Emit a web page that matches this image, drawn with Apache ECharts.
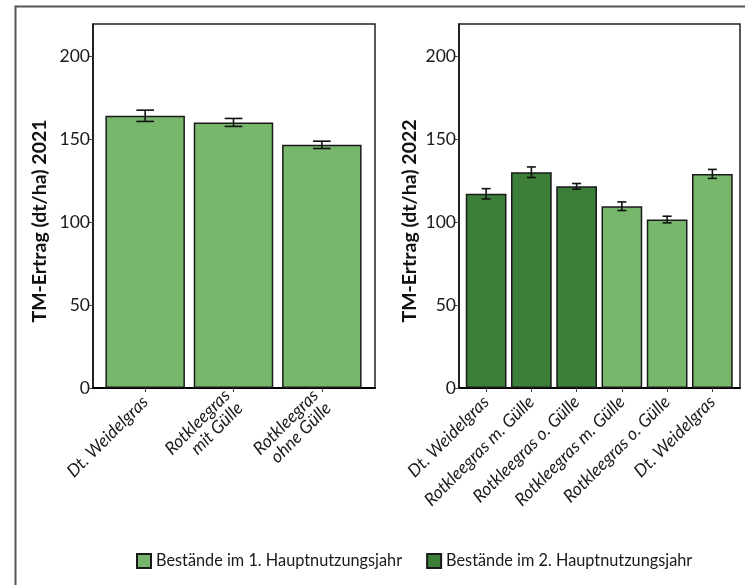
<!DOCTYPE html>
<html>
<head>
<meta charset="utf-8">
<script src="https://cdn.jsdelivr.net/npm/echarts@6/dist/echarts.min.js"></script>
<style>
  html, body { margin: 0; padding: 0; background: #fff; }
  #chart { width: 745px; height: 585px; }
</style>
</head>
<body>
<div id="chart"></div>
<script>
// 2021 trial
const cats2021 = ['Dt. Weidelgras', 'Rotkleegras\nmit Gülle', 'Rotkleegras\nohne Gülle']
const yield2021 = [164, 160, 146.5]
const err2021 = [3.4, 2.4, 2.2]

// 2022 trial
const cats2022 = ['Dt. Weidelgras', 'Rotkleegras m. Gülle', 'Rotkleegras o. Gülle',
  'Rotkleegras m. Gülle', 'Rotkleegras o. Gülle', 'Dt. Weidelgras']
const yield2022 = [117, 130, 121.5, 109.5, 101.5, 129]
const err2022 = [3.1, 3.2, 1.7, 2.6, 2.0, 2.7]
const useYear2022 = [2, 2, 2, 1, 1, 1] // Hauptnutzungsjahr

const yTicks = [0, 50, 100, 150, 200]
const legendNames = ['Bestände im 1. Hauptnutzungsjahr', 'Bestände im 2. Hauptnutzungsjahr']

const LIGHT = '#77b76c'
const DARK = '#3b7f39'
const FONT = 'Lato'

function errData(vals, errs) {
  return vals.map((v, i) => [i, v - errs[i], v + errs[i]])
}

function errorItem(params, api) {
  const x = api.value(0)
  const lo = api.coord([x, api.value(1)])
  const hi = api.coord([x, api.value(2)])
  const half = api.size([1, 0])[0] * 0.1
  const style = { stroke: '#111', lineWidth: 1.6, fill: null }
  return {
    type: 'group',
    children: [
      { type: 'line', shape: { x1: hi[0] - half, y1: hi[1], x2: hi[0] + half, y2: hi[1] }, style },
      { type: 'line', shape: { x1: hi[0], y1: hi[1], x2: lo[0], y2: lo[1] }, style },
      { type: 'line', shape: { x1: lo[0] - half, y1: lo[1], x2: lo[0] + half, y2: lo[1] }, style }
    ]
  }
}

function frameX(gridIndex) {
  return {
    gridIndex, type: 'value', min: 0, max: 1,
    axisLine: { show: true, lineStyle: { color: '#000', width: 2 } },
    axisTick: { show: false }, axisLabel: { show: false }, splitLine: { show: false }
  }
}
function frameY(gridIndex) {
  return { gridIndex, type: 'value', min: 0, max: 1, show: false }
}
function catX(gridIndex, data) {
  return {
    gridIndex, type: 'category', data,
    axisLine: { show: false },
    axisTick: { show: true, alignWithLabel: true, length: 4, lineStyle: { color: '#444' } },
    axisLabel: {
      rotate: 45, margin: 11, interval: 0, color: '#1a1a1a',
      fontFamily: FONT, fontStyle: 'italic', fontSize: 17.5, lineHeight: 18
    }
  }
}
function valY(gridIndex, offset, name) {
  return {
    gridIndex, type: 'value', min: 0, max: 219.3, offset,
    name, nameLocation: 'middle', nameGap: 35 + offset,
    nameTextStyle: { fontFamily: FONT, fontWeight: 'bold', fontSize: 19.5, color: '#111', padding: [0, 30, 0, 0] },
    axisLine: { show: true, lineStyle: { color: '#111', width: 1.5 } },
    axisTick: { show: true, length: 5, customValues: yTicks, lineStyle: { color: '#444' } },
    axisLabel: { customValues: yTicks, margin: 3, color: '#1a1a1a', fontFamily: FONT, fontSize: 17.5 },
    splitLine: { show: false }
  }
}

const chart = echarts.init(document.getElementById('chart'))
chart.setOption({
  animation: false,
  textStyle: { fontFamily: FONT },
  graphic: [{
    type: 'rect', left: 13, top: 4,
    shape: { width: 760, height: 620 },
    style: { fill: 'none', stroke: '#555', lineWidth: 2 }
  }],
  legend: {
    data: legendNames,
    left: 131, top: 548,
    itemWidth: 14, itemHeight: 14, itemGap: 24,
    icon: 'rect',
    textStyle: { fontFamily: FONT, fontSize: 16.3, color: '#1a1a1a' }
  },
  grid: [
    { left: 93, top: 24, width: 282, height: 364, show: true, borderColor: '#222', borderWidth: 1.5 },
    { left: 101, top: 24, width: 265, height: 364 },
    { left: 459, top: 24, width: 281, height: 364, show: true, borderColor: '#222', borderWidth: 1.5 },
    { left: 463.5, top: 24, width: 271.5, height: 364 }
  ],
  xAxis: [frameX(0), catX(1, cats2021), frameX(2), catX(3, cats2022)],
  yAxis: [frameY(0), valY(1, 8, 'TM-Ertrag (dt/ha) 2021'), frameY(2), valY(3, 4.5, 'TM-Ertrag (dt/ha) 2022')],
  series: [
    {
      name: legendNames[0], type: 'bar', xAxisIndex: 1, yAxisIndex: 1,
      data: yield2021, barCategoryGap: '10%',
      itemStyle: { color: LIGHT, borderColor: '#1a1a1a', borderWidth: 1.5 }
    },
    {
      type: 'custom', xAxisIndex: 1, yAxisIndex: 1, z: 5,
      renderItem: errorItem, encode: { x: 0, y: [1, 2] },
      data: errData(yield2021, err2021)
    },
    {
      name: legendNames[0], type: 'bar', xAxisIndex: 3, yAxisIndex: 3,
      data: yield2022.map((v, i) => useYear2022[i] === 1 ? v : '-'),
      barCategoryGap: '10%', barGap: '-100%',
      itemStyle: { color: LIGHT, borderColor: '#1a1a1a', borderWidth: 1.5 }
    },
    {
      name: legendNames[1], type: 'bar', xAxisIndex: 3, yAxisIndex: 3,
      data: yield2022.map((v, i) => useYear2022[i] === 2 ? v : '-'),
      barCategoryGap: '10%', barGap: '-100%',
      itemStyle: { color: DARK, borderColor: '#1a1a1a', borderWidth: 1.5 }
    },
    {
      type: 'custom', xAxisIndex: 3, yAxisIndex: 3, z: 5,
      renderItem: errorItem, encode: { x: 0, y: [1, 2] },
      data: errData(yield2022, err2022)
    }
  ]
})
</script>
</body>
</html>
